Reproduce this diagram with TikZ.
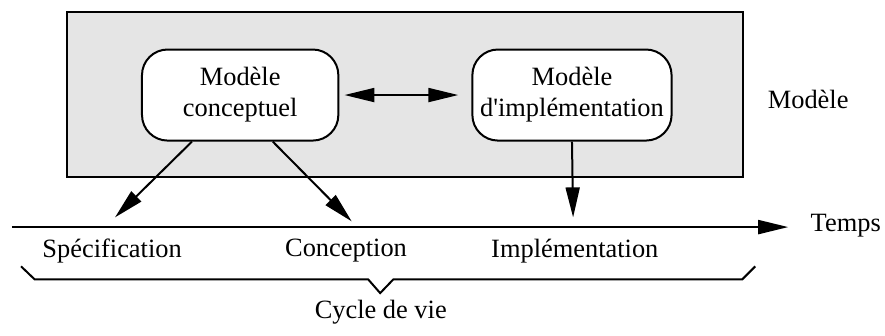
\documentclass[tikz,border=0pt]{standalone}
\usepackage{fontspec}
\setmainfont{Liberation Serif}
\usetikzlibrary{arrows.meta,positioning,calc}
\tikzset{
    >={Triangle[length=15pt,width=7pt]},
    every picture/.style={line width=1pt},
    modelbox/.style={draw,fill=white,rounded corners=0.45cm,align=center,
        minimum width=3.45cm,minimum height=1.6cm,inner sep=2pt},
    zone/.style={draw,fill=black!10}
}

\begin{document}
\begin{tikzpicture}[every node/.style={font=\fontsize{13.2}{15.5}\selectfont}]
    \useasboundingbox (0,0) rectangle (15.55,5.89);

    % Model area
    \draw[zone] (1.18,2.78) rectangle (13.05,5.68);
    \node[modelbox] (conc) at (4.22,4.22) {Modèle\\conceptuel};
    \node[modelbox,minimum width=3.5cm] (impl) at (10.05,4.22) {Modèle\\d\textquotesingle implémentation};
    \node (modele) at (14.20,4.15) {Modèle};
    \draw[<->,shorten <=0.09cm,shorten >=0.23cm] (conc) -- (impl);

    % Time axis
    \coordinate (t0) at (0.21,1.90);
    \coordinate (t1) at (13.85,1.90);
    \draw[->] (t0) -- (t1);
    \node (temps) at (14.86,1.93) {Temps};

    % Phases
    \node (spec) at (1.97,1.48) {Spécification};
    \node (concep) at (6.08,1.48) {Conception};
    \node (implem) at (10.10,1.48) {Implémentation};
    \coordinate (specTip) at (2.02,2.07);
    \coordinate (concTip) at (6.18,2.00);
    \coordinate (implTip) at (10.07,2.07);
    \draw[->] (conc.-136) -- (specTip);
    \draw[->] (conc.-55) -- (concTip);
    \draw[->] (impl.south) -- (implTip);

    % Life cycle brace
    \draw (0.37,1.21) -- (0.61,0.98) -- (6.47,0.98) -- (6.68,0.74) coordinate (dip)
        -- (6.91,0.98) -- (13.04,0.98) -- (13.27,1.21);
    \node (cycle) at (6.69,0.40) {Cycle de vie};
\end{tikzpicture}
\end{document}
